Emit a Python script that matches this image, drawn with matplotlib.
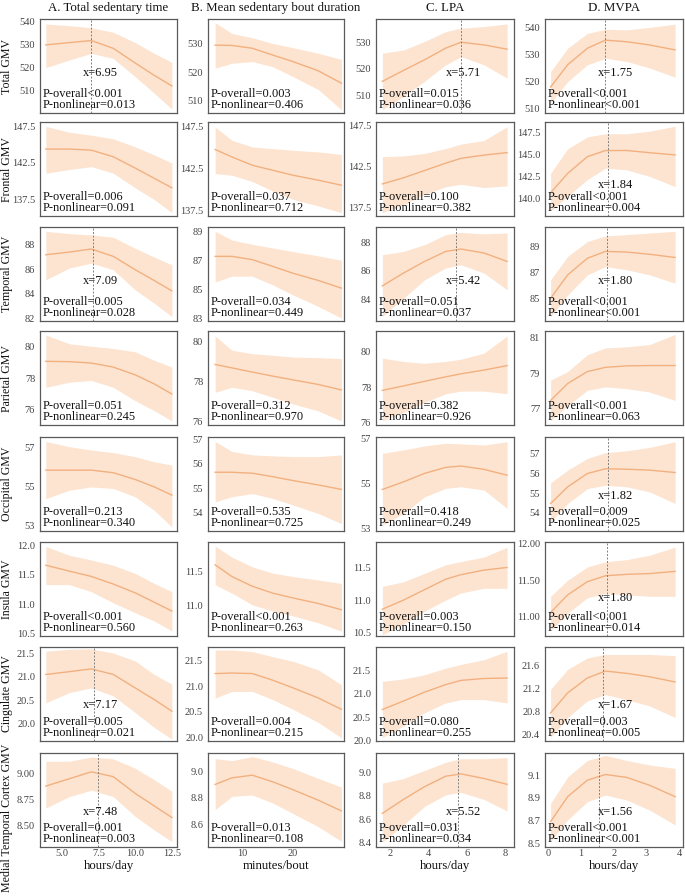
import matplotlib
matplotlib.use('Agg')
import matplotlib.pyplot as plt

plt.rcParams['font.family'] = ['Liberation Serif', 'DejaVu Serif']

col_titles = ['A. Total sedentary time', 'B. Mean sedentary bout duration', 'C. LPA', 'D. MVPA']
row_labels = ['Total GMV', 'Frontal GMV', 'Temporal GMV', 'Parietal GMV', 'Occipital GMV',
              'Insula GMV', 'Cingulate GMV', 'Medial Temporal Cortex GMV']
x_labels = ['hours/day', 'minutes/bout', 'hours/day', 'hours/day']

# exposure grids (per column)
x_tst = [3.9, 5.5, 7.0, 8.5, 10.0, 11.3, 12.5]
x_bout = [4.7, 8, 12, 16, 20, 25, 29.5]
x_lpa = [1.6, 2.7, 3.8, 4.9, 5.7, 6.9, 8.1]
x_mvpa = [0.08, 0.6, 1.2, 1.75, 2.4, 3.1, 3.87]
x_grids = [x_tst, x_bout, x_lpa, x_mvpa]

x_lims = [(3.5, 12.85), (3.3, 30.0), (1.27, 8.46), (-0.09, 4.11)]
x_ticks = [[5.0, 7.5, 10.0, 12.5], [10, 20], [2, 4, 6, 8], [0, 1, 2, 3, 4]]
x_ticklabels = [['5.0', '7.5', '10.0', '12.5'], ['10', '20'], ['2', '4', '6', '8'], ['0', '1', '2', '3', '4']]

# ---- Total GMV
total_fit = [[529.7, 530.7, 531.6, 528.2, 521.8, 516.4, 511.8],
             [529.6, 529.5, 528.5, 526.1, 523.8, 520.5, 516.2],
             [515.3, 519.4, 523.4, 527.8, 530.0, 529.0, 527.4],
             [518.0, 526.2, 532.3, 535.3, 534.7, 533.5, 531.7]]
total_lo = [[519.8, 523.1, 526.0, 523.8, 515.8, 508.6, 501.7],
            [521.5, 523.2, 523.8, 522.0, 518.5, 513.9, 506.8],
            [504.6, 509.6, 515.3, 521.5, 524.6, 521.5, 516.5],
            [512.1, 520.0, 526.2, 528.6, 527.4, 525.0, 521.6]]
total_hi = [[538.8, 538.1, 537.2, 535.2, 530.7, 526.0, 522.1],
            [537.5, 533.7, 532.2, 530.2, 528.7, 526.7, 524.6],
            [525.9, 527.1, 530.3, 534.0, 535.3, 535.9, 536.9],
            [523.7, 532.3, 537.8, 539.3, 539.1, 540.0, 541.2]]
total_ylim = [(500, 541), (505.7, 538.8), (503.4, 538.75), (508.4, 543.1)]
total_yticks = [[510, 520, 530, 540], [510, 520, 530], [510, 520, 530], [510, 520, 530, 540]]
total_ytl = [['510', '520', '530', '540'], ['510', '520', '530'], ['510', '520', '530'], ['510', '520', '530', '540']]
total_cut = [6.95, None, 5.71, 1.75]
total_po = ['<0.001', '=0.003', '=0.015', '<0.001']
total_pn = ['=0.013', '=0.406', '=0.036', '<0.001']

# ---- Frontal GMV
frontal_fit = [[144.4, 144.4, 144.25, 143.35, 141.8, 140.4, 139.1],
               [144.8, 143.9, 142.9, 142.3, 141.7, 141.1, 140.5],
               [140.35, 141.1, 142.0, 142.9, 143.5, 143.9, 144.2],
               [140.7, 142.9, 144.8, 145.5, 145.5, 145.25, 145.0]]
frontal_lo = [[141.1, 141.6, 142.0, 141.1, 139.1, 137.5, 135.7],
              [141.9, 141.7, 140.95, 139.8, 138.8, 138.0, 137.2],
              [136.8, 137.8, 139.06, 140.0, 140.3, 139.9, 140.1],
              [138.6, 140.3, 142.2, 143.5, 143.3, 142.55, 141.4]]
frontal_hi = [[147.5, 146.7, 146.3, 145.8, 144.7, 143.6, 142.5],
              [147.5, 145.9, 145.1, 144.9, 144.7, 144.5, 144.2],
              [143.7, 143.8, 144.1, 144.7, 145.25, 145.7, 147.4],
              [142.9, 145.7, 147.05, 147.4, 147.4, 147.7, 148.25]]
frontal_ylim = [(135.25, 148.1), (136.8, 148.1), (136.4, 147.97), (138.06, 148.74)]
frontal_yticks = [[137.5, 142.5, 147.5]] * 3 + [[140.0, 142.5, 145.0, 147.5]]
frontal_ytl = [['137.5', '142.5', '147.5']] * 3 + [['140.0', '142.5', '145.0', '147.5']]
frontal_cut = [None, None, None, 1.84]
frontal_po = ['=0.006', '=0.037', '=0.100', '<0.001']
frontal_pn = ['=0.091', '=0.712', '=0.382', '=0.004']

# ---- Temporal GMV
temporal_fit = [[87.18, 87.4, 87.65, 87.05, 85.96, 85.08, 84.24],
                [87.27, 87.27, 87.04, 86.58, 86.1, 85.6, 85.07],
                [84.94, 85.84, 86.66, 87.36, 87.53, 87.25, 86.66],
                [85.05, 86.83, 88.1, 88.62, 88.57, 88.4, 88.16]]
temporal_lo = [[85.14, 86.1, 86.5, 85.96, 84.32, 83.23, 82.14],
               [85.5, 85.9, 85.9, 85.3, 84.6, 83.8, 83.0],
               [82.78, 84.07, 85.36, 86.2, 86.42, 85.84, 84.66],
               [83.65, 85.3, 86.83, 87.47, 87.22, 86.83, 86.2]]
temporal_hi = [[89.09, 88.9, 88.8, 88.6, 87.7, 86.99, 86.36],
               [89.0, 88.4, 88.1, 87.85, 87.6, 87.3, 87.0],
               [87.13, 87.36, 87.84, 88.54, 88.7, 88.6, 88.66],
               [86.45, 88.24, 89.38, 89.8, 89.9, 90.02, 90.15]]
temporal_ylim = [(81.79, 89.44), (82.8, 89.3), (82.47, 89.08), (83.32, 90.48)]
temporal_yticks = [[82, 84, 86, 88], [83, 85, 87, 89], [84, 86, 88], [85, 87, 89]]
temporal_ytl = [['82', '84', '86', '88'], ['83', '85', '87', '89'], ['84', '86', '88'], ['85', '87', '89']]
temporal_cut = [7.09, None, 5.42, 1.80]
temporal_po = ['=0.005', '=0.034', '=0.051', '<0.001']
temporal_pn = ['=0.028', '=0.449', '=0.037', '<0.001']

# ---- Parietal GMV
parietal_fit = [[79.07, 79.05, 78.96, 78.7, 78.2, 77.62, 76.97],
                [78.87, 78.7, 78.49, 78.29, 78.1, 77.87, 77.6],
                [77.81, 78.06, 78.32, 78.57, 78.74, 78.95, 79.2],
                [77.48, 78.43, 79.1, 79.34, 79.42, 79.44, 79.44]]
parietal_lo = [[77.4, 77.73, 77.84, 77.4, 76.54, 75.9, 75.24],
               [77.48, 77.73, 77.56, 77.23, 76.9, 76.55, 76.05],
               [76.1, 76.57, 77.14, 77.62, 77.77, 77.77, 77.62],
               [76.33, 77.19, 78.05, 78.24, 78.14, 77.95, 77.48]]
parietal_hi = [[80.76, 80.2, 80.04, 79.9, 79.68, 79.14, 78.7],
               [80.29, 79.58, 79.41, 79.33, 79.24, 79.21, 79.16],
               [79.62, 79.43, 79.33, 79.43, 79.56, 79.9, 80.86],
               [78.62, 79.1, 80.05, 80.43, 80.49, 80.62, 81.19]]
parietal_ylim = [(74.98, 81.02), (75.85, 80.54), (75.87, 81.14), (76.1, 81.38)]
parietal_yticks = [[76, 78, 80]] * 3 + [[77, 79, 81]]
parietal_ytl = [['76', '78', '80']] * 3 + [['77', '79', '81']]
parietal_cut = [None, None, None, None]
parietal_po = ['=0.051', '=0.312', '=0.382', '<0.001']
parietal_pn = ['=0.245', '=0.970', '=0.926', '=0.063']

# ---- Occipital GMV
occipital_fit = [[55.83, 55.83, 55.83, 55.7, 55.35, 54.97, 54.55],
                 [55.66, 55.66, 55.62, 55.48, 55.32, 55.14, 54.96],
                 [54.73, 55.07, 55.45, 55.72, 55.78, 55.63, 55.37],
                 [54.47, 55.32, 56.0, 56.24, 56.22, 56.17, 56.05]]
occipital_lo = [[54.37, 54.8, 54.97, 54.89, 54.46, 53.77, 52.91],
                [54.45, 54.66, 54.79, 54.59, 54.32, 53.97, 53.56],
                [53.13, 53.65, 54.4, 54.78, 54.85, 54.7, 53.88],
                [53.53, 54.47, 55.23, 55.4, 55.32, 55.06, 54.47]]
occipital_hi = [[57.3, 57.03, 56.86, 56.73, 56.52, 56.26, 56.09],
                [56.92, 56.51, 56.37, 56.33, 56.3, 56.3, 56.37],
                [56.35, 56.5, 56.68, 56.8, 56.77, 56.72, 56.87],
                [55.52, 56.17, 56.77, 57.06, 57.16, 57.33, 57.62]]
occipital_ylim = [(52.71, 57.53), (53.26, 57.1), (52.87, 57.08), (53.07, 57.86)]
occipital_yticks = [[53, 55, 57], [54, 55, 56, 57], [53, 55, 57], [54, 55, 56, 57]]
occipital_ytl = [['53', '55', '57'], ['54', '55', '56', '57'], ['53', '55', '57'], ['54', '55', '56', '57']]
occipital_cut = [None, None, None, 1.82]
occipital_po = ['=0.213', '=0.535', '=0.418', '=0.009']
occipital_pn = ['=0.340', '=0.725', '=0.249', '=0.025']

# ---- Insula GMV
insula_fit = [[11.66, 11.56, 11.47, 11.34, 11.19, 11.03, 10.88],
              [11.59, 11.42, 11.28, 11.18, 11.11, 11.03, 10.94],
              [10.86, 11.0, 11.16, 11.32, 11.39, 11.46, 11.5],
              [11.06, 11.3, 11.48, 11.56, 11.58, 11.59, 11.62]]
insula_lo = [[11.33, 11.33, 11.21, 11.02, 10.85, 10.71, 10.54],
             [11.3, 11.18, 11.01, 10.92, 10.85, 10.75, 10.63],
             [10.47, 10.63, 10.83, 11.0, 11.11, 11.18, 11.18],
             [10.81, 11.05, 11.26, 11.32, 11.3, 11.28, 11.28]]
insula_hi = [[11.98, 11.83, 11.75, 11.66, 11.52, 11.35, 11.21],
             [11.86, 11.7, 11.56, 11.47, 11.42, 11.37, 11.32],
             [11.21, 11.28, 11.41, 11.54, 11.59, 11.66, 11.81],
             [11.28, 11.5, 11.68, 11.75, 11.78, 11.84, 11.95]]
insula_ylim = [(10.455, 12.056), (10.56, 11.92), (10.45, 11.89), (10.74, 12.02)]
insula_yticks = [[10.5, 11.0, 11.5, 12.0], [11.0, 11.5], [10.5, 11.0, 11.5], [11.0, 11.5, 12.0]]
insula_ytl = [['10.5', '11.0', '11.5', '12.0'], ['11.0', '11.5'], ['10.5', '11.0', '11.5'], ['11.00', '11.50', '12.00']]
insula_cut = [None, None, None, 1.80]
insula_po = ['<0.001', '<0.001', '=0.003', '<0.001']
insula_pn = ['=0.560', '=0.263', '=0.150', '=0.014']

# ---- Cingulate GMV
cingulate_fit = [[21.05, 21.11, 21.17, 21.05, 20.76, 20.51, 20.26],
                 [21.25, 21.26, 21.25, 21.12, 20.97, 20.77, 20.55],
                 [20.66, 20.84, 21.03, 21.19, 21.28, 21.32, 21.33],
                 [20.78, 21.13, 21.39, 21.51, 21.47, 21.41, 21.32]]
cingulate_lo = [[20.44, 20.66, 20.76, 20.59, 20.23, 19.91, 19.66],
                [20.77, 20.9, 20.9, 20.74, 20.55, 20.29, 19.99],
                [20.06, 20.31, 20.59, 20.8, 20.87, 20.87, 20.8],
                [20.35, 20.7, 20.99, 21.1, 21.01, 20.9, 20.7]]
cingulate_hi = [[21.55, 21.59, 21.6, 21.51, 21.34, 21.05, 20.84],
                [21.71, 21.71, 21.68, 21.58, 21.49, 21.32, 21.03],
                [21.26, 21.31, 21.4, 21.54, 21.62, 21.72, 21.9],
                [21.19, 21.54, 21.74, 21.8, 21.8, 21.8, 21.78]]
cingulate_ylim = [(19.62, 21.64), (19.93, 21.77), (19.99, 21.99), (20.29, 21.93)]
cingulate_yticks = [[20.0, 20.5, 21.0, 21.5]] * 3 + [[20.4, 20.8, 21.2, 21.6]]
cingulate_ytl = [['20.0', '20.5', '21.0', '21.5']] * 3 + [['20.4', '20.8', '21.2', '21.6']]
cingulate_cut = [7.17, None, None, 1.67]
cingulate_po = ['=0.005', '=0.004', '=0.080', '=0.003']
cingulate_pn = ['=0.021', '=0.215', '=0.255', '=0.005']

# ---- Medial temporal cortex GMV
mtc_fit = [[8.88, 8.95, 9.016, 8.97, 8.81, 8.69, 8.58],
           [8.9, 8.95, 8.97, 8.92, 8.86, 8.78, 8.70],
           [8.65, 8.77, 8.88, 8.97, 8.99, 8.95, 8.90],
           [8.69, 8.91, 9.056, 9.106, 9.08, 9.01, 8.91]]
mtc_lo = [[8.67, 8.78, 8.84, 8.78, 8.59, 8.46, 8.35],
          [8.71, 8.81, 8.82, 8.76, 8.68, 8.58, 8.47],
          [8.4, 8.55, 8.71, 8.81, 8.83, 8.77, 8.67],
          [8.515, 8.705, 8.866, 8.924, 8.88, 8.79, 8.66]]
mtc_hi = [[9.117, 9.117, 9.158, 9.14, 9.05, 8.94, 8.83],
          [9.095, 9.08, 9.11, 9.07, 9.02, 8.945, 8.88],
          [8.91, 8.95, 9.02, 9.09, 9.12, 9.12, 9.13],
          [8.85, 9.085, 9.23, 9.275, 9.23, 9.19, 9.16]]
mtc_ylim = [(8.298, 9.196), (8.4275, 9.1375), (8.36, 9.17), (8.465, 9.296)]
mtc_yticks = [[8.5, 8.75, 9.0], [8.6, 8.8, 9.0], [8.4, 8.6, 8.8, 9.0], [8.5, 8.7, 8.9, 9.1]]
mtc_ytl = [['8.50', '8.75', '9.00'], ['8.6', '8.8', '9.0'], ['8.4', '8.6', '8.8', '9.0'], ['8.5', '8.7', '8.9', '9.1']]
mtc_cut = [7.48, None, 5.52, 1.56]
mtc_po = ['=0.001', '=0.013', '=0.031', '<0.001']
mtc_pn = ['=0.003', '=0.108', '=0.034', '<0.001']

rows = [
    (total_fit, total_lo, total_hi, total_ylim, total_yticks, total_ytl, total_cut, total_po, total_pn),
    (frontal_fit, frontal_lo, frontal_hi, frontal_ylim, frontal_yticks, frontal_ytl, frontal_cut, frontal_po, frontal_pn),
    (temporal_fit, temporal_lo, temporal_hi, temporal_ylim, temporal_yticks, temporal_ytl, temporal_cut, temporal_po, temporal_pn),
    (parietal_fit, parietal_lo, parietal_hi, parietal_ylim, parietal_yticks, parietal_ytl, parietal_cut, parietal_po, parietal_pn),
    (occipital_fit, occipital_lo, occipital_hi, occipital_ylim, occipital_yticks, occipital_ytl, occipital_cut, occipital_po, occipital_pn),
    (insula_fit, insula_lo, insula_hi, insula_ylim, insula_yticks, insula_ytl, insula_cut, insula_po, insula_pn),
    (cingulate_fit, cingulate_lo, cingulate_hi, cingulate_ylim, cingulate_yticks, cingulate_ytl, cingulate_cut, cingulate_po, cingulate_pn),
    (mtc_fit, mtc_lo, mtc_hi, mtc_ylim, mtc_yticks, mtc_ytl, mtc_cut, mtc_po, mtc_pn),
]

# ---- layout (pixels)
W, H = 685, 896
col_left = [40, 208, 376, 545]
col_width = [137, 136, 138, 138]
row_top = [19, 122, 227, 331, 437, 542, 647, 753]
row_h = 94
cut_text_x = [0.316, None, 0.51, 0.38]
cut_text_y = [0.43, 0.335, 0.43, 0.40, 0.37, 0.40, 0.38, 0.37]

band_color = '#fde4d0'
line_color = '#f2b07f'
spine_color = '#5a5a5a'
tick_color = '#444444'
text_fs = 8.9

fig = plt.figure(figsize=(W / 100, H / 100), dpi=100)

for r, (fit, lo, hi, ylim, yt, ytl, cut, po, pn) in enumerate(rows):
    for c in range(4):
        l = col_left[c] / W
        b = (H - row_top[r] - row_h) / H
        ax = fig.add_axes([l, b, col_width[c] / W, row_h / H])
        x = x_grids[c]
        ax.fill_between(x, lo[c], hi[c], color=band_color, lw=0)
        ax.plot(x, fit[c], color=line_color, lw=1.0)
        ax.set_xlim(*x_lims[c])
        ax.set_ylim(*ylim[c])
        ax.set_yticks(yt[c])
        ax.set_yticklabels(ytl[c])
        ax.set_xticks(x_ticks[c])
        if r == len(rows) - 1:
            ax.set_xticklabels(x_ticklabels[c])
        else:
            ax.set_xticklabels([])
        ax.tick_params(axis='both', length=0, labelsize=7.5, labelcolor=tick_color)
        ax.tick_params(axis='y', pad=3.5)
        ax.tick_params(axis='x', pad=1.5)
        for s in ax.spines.values():
            s.set_color(spine_color)
            s.set_linewidth(0.9)
        if cut[c] is not None:
            ax.axvline(cut[c], color='#808080', lw=0.7, ls=(0, (2.0, 1.6)))
            ax.text(cut_text_x[c], cut_text_y[r], f'x={cut[c]:.2f}', transform=ax.transAxes,
                    ha='left', va='center', fontsize=text_fs, color='#111111')
        ax.text(0.022, 0.205, 'P-overall' + po[c], transform=ax.transAxes,
                ha='left', va='center', fontsize=text_fs, color='#111111')
        ax.text(0.022, 0.088, 'P-nonlinear' + pn[c], transform=ax.transAxes,
                ha='left', va='center', fontsize=text_fs, color='#111111')

# column titles and x labels
for c in range(4):
    cx = (col_left[c] + col_width[c] / 2) / W
    fig.text(cx, 1 - 8 / H, col_titles[c], ha='center', va='center', fontsize=9.3, color='#111111')
    fig.text(cx, 1 - 866 / H, x_labels[c], ha='center', va='center', fontsize=9.2, color='#111111')

# row labels
for r in range(8):
    cy = row_top[r] + row_h / 2
    if r == 7:
        cy = 818
    fig.text(7 / W, 1 - cy / H, row_labels[r], ha='center', va='center', rotation=90,
             fontsize=8.6, color='#111111')

fig.savefig('out.png', dpi=100)
